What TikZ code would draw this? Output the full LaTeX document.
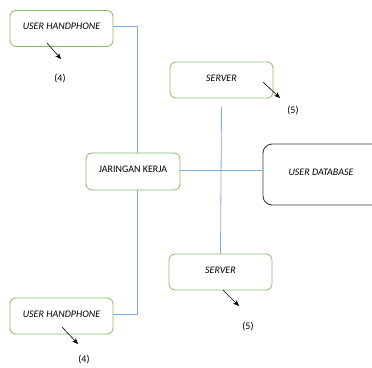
\documentclass[tikz,border=0pt]{standalone}
\usepackage{fontspec}
\setmainfont{Carlito}
\usetikzlibrary{calc,arrows.meta}
\definecolor{boxgreen}{RGB}{138,184,100}
\definecolor{linkblue}{RGB}{125,172,220}
\definecolor{dbgray}{RGB}{60,60,60}
\newcommand\liftup[1]{\raisebox{4pt}{#1}}
\tikzset{
  gbox/.style={draw=boxgreen, line width=0.8pt, rounded corners=6pt, minimum width=103pt, minimum height=36pt, inner sep=0pt, font=\fontsize{10}{12}\selectfont\itshape},
  dbbox/.style={draw=dbgray, line width=0.9pt, rounded corners=9pt, inner sep=0pt, font=\fontsize{10}{12}\selectfont\itshape},
  link/.style={draw=linkblue, line width=0.8pt},
  pointer/.style={draw=black, line width=0.6pt, -{Stealth[length=6pt,width=5pt]}},
  tag/.style={font=\fontsize{10}{12}\selectfont, inner sep=0pt}
}
\begin{document}
\begin{tikzpicture}[x=1pt,y=-1pt]
\useasboundingbox (0,0) rectangle (372,367);
\begin{scope}
\clip (0,0) rectangle (372,367);
% boxes
\node[gbox] (hp1) at (61.5,28.5) {\liftup{USER HANDPHONE}};
\node[gbox] (hp2) at (61.5,316) {\liftup{USER HANDPHONE}};
\node[gbox] (srv1) at (221.5,80) {\liftup{SERVER}};
\node[gbox] (srv2) at (220.5,272) {\liftup{SERVER}};
\node[gbox, minimum width=94pt, minimum height=37pt, font=\fontsize{10}{12}\selectfont] (jk) at (133,171.5) {\liftup{JARINGAN KERJA}};
\node[dbbox, minimum width=130pt, minimum height=61pt] (db) at (328,174.5) {\raisebox{5pt}{\hspace*{-14pt}USER DATABASE}};
% connectors
\draw[link] ([yshift=2.5pt]hp1.east) -| ([xshift=4pt]jk.north);
\draw[link] ([yshift=2pt]hp2.east) -| ([xshift=4pt]jk.south);
\draw[link] ([yshift=1.5pt]jk.east) -- ([yshift=1.5pt]jk.east -| db.west);
\draw[link] ($(srv1.south)+(0,9)$) -- (srv2.north);
% pointers
\coordinate (p1s) at (47,43); \coordinate (p1e) at (61,59);
\coordinate (p2s) at (263,82); \coordinate (p2e) at (280,98);
\coordinate (p3s) at (223,290); \coordinate (p3e) at (239,306);
\coordinate (p4s) at (62,327); \coordinate (p4e) at (78,344);
\draw[pointer] (p1s) -- (p1e);
\draw[pointer] (p2s) -- (p2e);
\draw[pointer] (p3s) -- (p3e);
\draw[pointer] (p4s) -- (p4e);
% labels
\node[tag] (t1) at (60,79) {(4)};
\node[tag] (t2) at (293,111) {(5)};
\node[tag] (t3) at (248,327) {(5)};
\node[tag] (t4) at (84,360) {(4)};
\end{scope}
\end{tikzpicture}
\end{document}
